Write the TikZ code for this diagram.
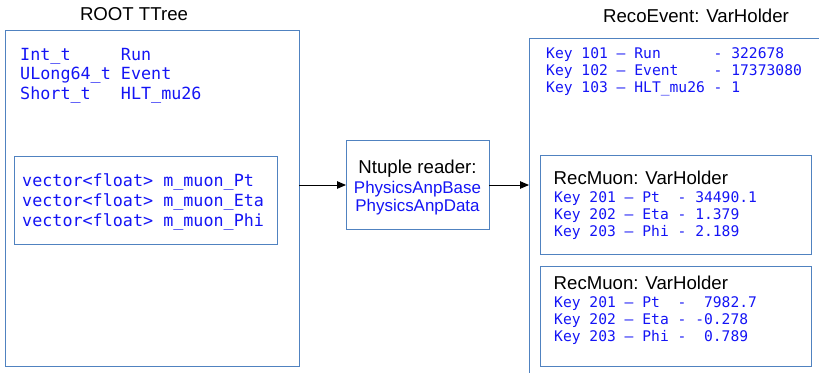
\documentclass[tikz,border=0pt]{standalone}
\usepackage{fontspec}
\setmainfont{Liberation Sans}
\newfontfamily\codefont{DejaVu Sans Mono}
\usetikzlibrary{arrows.meta}
\definecolor{boxline}{RGB}{80,130,192}
\definecolor{codeblue}{RGB}{20,20,245}

\begin{document}
\begin{tikzpicture}[x=1bp,y=-1bp,
  frame/.style={draw=boxline, line width=1bp, inner sep=0pt, outer sep=0pt},
  title/.style={inner sep=0pt, font=\fontsize{18.7}{22}\selectfont},
  readertext/.style={anchor=base, inner sep=0pt, text=codeblue, font=\fontsize{17}{20}\selectfont},
  bigcode/.style={anchor=base west, inner sep=0pt, text=codeblue, font=\codefont\fontsize{16.8}{20}\selectfont},
  smallcode/.style={anchor=base west, inner sep=0pt, text=codeblue, font=\codefont\fontsize{14.7}{17}\selectfont},
  link/.style={-{Triangle[length=9bp,width=7.5bp]}, line width=0.9bp, black}]
\useasboundingbox (0,0) rectangle (819,373);

% ---- ROOT TTree ----
\node[title, anchor=base] (treetitle) at (134,20.7) {ROOT TTree};
\node[frame, minimum width=293bp, minimum height=336bp] (tree) at (152.5,198) {};
\node[bigcode] (trun)   at (20,60)   {Int\_t~~~~~Run};
\node[bigcode] (tevent) at (20,79.5) {ULong64\_t~Event};
\node[bigcode] (thlt)   at (20,99)   {Short\_t~~~HLT\_mu26};

\node[frame, minimum width=262bp, minimum height=88bp] (vectors) at (146,200) {};
\node[bigcode] (vpt)  at (22,186.7) {vector<float>~m\_muon\_Pt};
\node[bigcode] (veta) at (22,206.3) {vector<float>~m\_muon\_Eta};
\node[bigcode] (vphi) at (22,226)   {vector<float>~m\_muon\_Phi};

% ---- Ntuple reader ----
\node[frame, minimum width=143bp, minimum height=88.3bp] (reader) at (417.5,185) {};
\node[title, anchor=base] (readertitle) at (417.5,173.3) {Ntuple reader:};
\node[readertext] (rbase) at (417.5,193.3) {PhysicsAnpBase};
\node[readertext] (rdata) at (417.5,211.7) {PhysicsAnpData};

% ---- RecoEvent ----
\node[title, anchor=base] (recotitle) at (696,22.7) {RecoEvent: VarHolder};
\coordinate (recocorner) at (529,38);
\draw[boxline, line width=1bp] (819,38) -- (recocorner) -- (529,373);
\node[smallcode] (krun)   at (546,58.3) {Key~101~—~Run~~~~~~-~322678};
\node[smallcode] (kevent) at (546,75.3) {Key~102~—~Event~~~~-~17373080};
\node[smallcode] (khlt)   at (546,92.3) {Key~103~—~HLT\_mu26~-~1};

% first muon
\node[frame, minimum width=271bp, minimum height=99.3bp] (muonA) at (675.5,205.3) {};
\node[title, anchor=base west] (muonAtitle) at (553.5,184.3) {RecMuon: VarHolder};
\node[smallcode] (aPt)  at (554,202.7) {Key~201~—~Pt~~-~34490.1};
\node[smallcode] (aEta) at (554,219.3) {Key~202~—~Eta~-~1.379};
\node[smallcode] (aPhi) at (554,236)   {Key~203~—~Phi~-~2.189};

% second muon
\node[frame, minimum width=271bp, minimum height=100bp] (muonB) at (675.5,316.7) {};
\node[title, anchor=base west] (muonBtitle) at (553.5,289) {RecMuon: VarHolder};
\node[smallcode] (bPt)  at (554,307.3) {Key~201~—~Pt~~-~~7982.7};
\node[smallcode] (bEta) at (554,324.3) {Key~202~—~Eta~-~-0.278};
\node[smallcode] (bPhi) at (554,341)   {Key~203~—~Phi~-~~0.789};

% ---- data flow ----
\draw[link] (tree.east |- reader.west) -- (reader.west);
\draw[link] (reader.east) -- (reader.east -| recocorner);
\end{tikzpicture}
\end{document}
